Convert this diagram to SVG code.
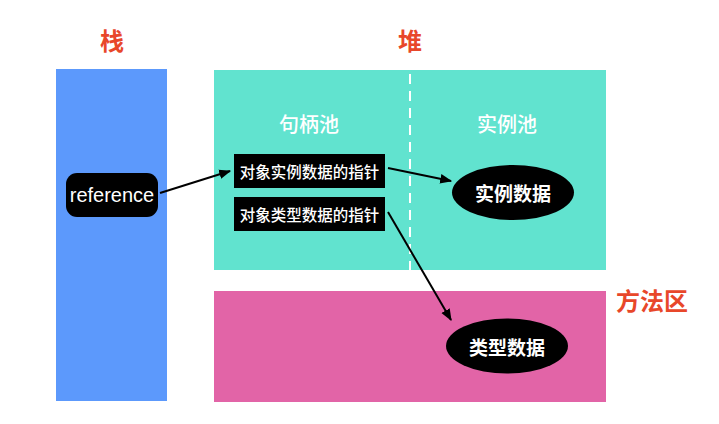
<svg xmlns="http://www.w3.org/2000/svg" width="719" height="424" viewBox="0 0 719 424">
<style>
.title{font-family:"Noto Sans CJK SC","Liberation Sans",sans-serif;font-size:24px;font-weight:bold;fill:#e8472a;text-anchor:middle;dominant-baseline:central}
.pool{font-family:"Noto Sans CJK SC","Liberation Sans",sans-serif;font-size:20px;font-weight:500;fill:#ffffff;text-anchor:middle;dominant-baseline:central}
.lbl{font-family:"Noto Sans CJK SC","Liberation Sans",sans-serif;font-size:15.5px;font-weight:500;fill:#ffffff;text-anchor:middle;dominant-baseline:central}
.big{font-family:"Noto Sans CJK SC","Liberation Sans",sans-serif;font-size:19px;font-weight:bold;fill:#ffffff;text-anchor:middle;dominant-baseline:central}
.conn{stroke:#000;stroke-width:2;fill:none;marker-end:url(#ah)}
</style>
<defs>
<marker id="ah" viewBox="0 0 10 10" refX="9" refY="5" markerWidth="6" markerHeight="6" orient="auto" markerUnits="strokeWidth">
<path d="M0,1 L10,5 L0,9 Z" fill="#000"/>
</marker>
</defs>
<rect width="719" height="424" fill="#ffffff"/>
<g id="stack">
<rect x="56" y="69" width="111" height="332" fill="#5c99fc"/>
<text class="title" x="112" y="39">栈</text>
</g>
<g id="heap">
<rect x="214" y="70" width="392" height="200" fill="#61e3cf"/>
<line x1="410" y1="74" x2="410" y2="270" stroke="#ffffff" stroke-width="2" stroke-dasharray="10,7"/>
<text class="title" x="410" y="39">堆</text>
<text class="pool" x="309" y="123">句柄池</text>
<text class="pool" x="507" y="123">实例池</text>
</g>
<g id="method-area">
<rect x="214" y="291" width="392" height="111" fill="#e264a7"/>
<text class="title" x="652" y="299">方法区</text>
</g>
<g id="reference">
<rect x="66" y="173" width="92" height="44" rx="11" fill="#000"/>
<text x="112" y="195" font-family="Liberation Sans,Arial,sans-serif" font-size="20" fill="#fff" text-anchor="middle" dominant-baseline="central">reference</text>
</g>
<g id="instance-ptr">
<rect x="234" y="154" width="151" height="34" fill="#000"/>
<text class="lbl" x="309.5" y="171">对象实例数据的指针</text>
</g>
<g id="type-ptr">
<rect x="234" y="197" width="151" height="34" fill="#000"/>
<text class="lbl" x="309.5" y="214">对象类型数据的指针</text>
</g>
<g id="instance-data">
<ellipse cx="513" cy="192.5" rx="61" ry="27.5" fill="#000"/>
<text class="big" x="513" y="192.5">实例数据</text>
</g>
<g id="type-data">
<ellipse cx="507" cy="346" rx="61" ry="27.5" fill="#000"/>
<text class="big" x="507" y="346">类型数据</text>
</g>
<g id="connectors">
<line class="conn" x1="160" y1="193" x2="230" y2="171"/>
<line class="conn" x1="388" y1="168" x2="451" y2="181"/>
<line class="conn" x1="388" y1="212" x2="451" y2="320"/>
</g>
</svg>
